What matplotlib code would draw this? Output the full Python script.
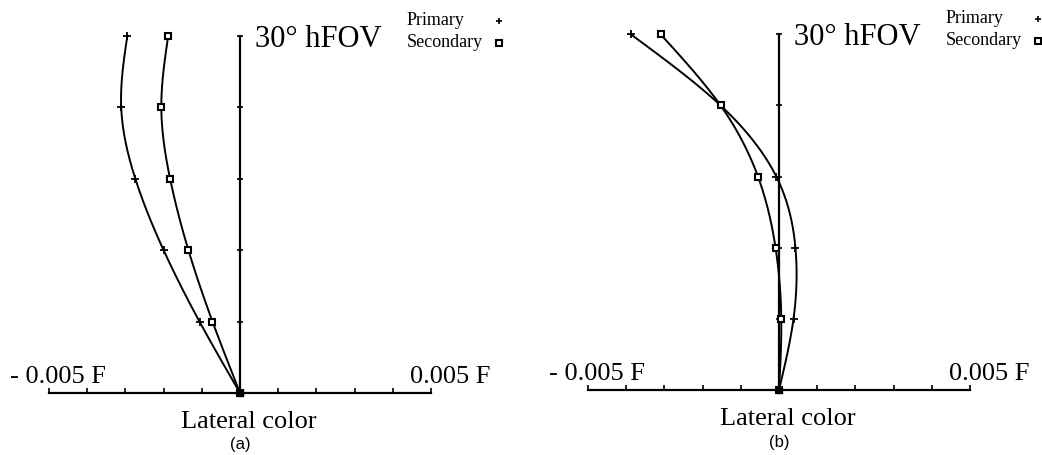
import numpy as np
from matplotlib import pyplot as plt

# Campo relativo (fraccion del hFOV) y color lateral en unidades de F
campo = [0.0, 0.2, 0.4, 0.6, 0.8, 1.0]

prim_a = [0.0, -0.00106, -0.00200, -0.00274, -0.00311, -0.00295]
sec_a = [0.0, -0.00072, -0.00135, -0.00183, -0.00206, -0.00188]

prim_b = [0.0, 0.00038, 0.00043, -0.00007, -0.00153, -0.00388]
sec_b = [0.0, 0.00006, -0.00009, -0.00055, -0.00153, -0.00310]

ticks_x = np.arange(-0.005, 0.0051, 0.001)
ticks_y = [0.2, 0.4, 0.6, 0.8, 1.0]

SERIF = 'Liberation Serif'


def spline(t, v, n=200):
    # spline cubica natural, solo para trazar la curva suave entre los puntos
    t = np.asarray(t, float)
    v = np.asarray(v, float)
    k = len(t)
    h = np.diff(t)
    A = np.zeros((k, k))
    b = np.zeros(k)
    A[0, 0] = 1
    A[-1, -1] = 1
    for i in range(1, k - 1):
        A[i, i - 1] = h[i - 1]
        A[i, i] = 2 * (h[i - 1] + h[i])
        A[i, i + 1] = h[i]
        b[i] = 6 * ((v[i + 1] - v[i]) / h[i] - (v[i] - v[i - 1]) / h[i - 1])
    M = np.linalg.solve(A, b)
    tt = np.linspace(t[0], t[-1], n)
    out = np.zeros(n)
    for j, x in enumerate(tt):
        i = min(np.searchsorted(t, x, side='right') - 1, k - 2)
        a = t[i + 1] - x
        c = x - t[i]
        out[j] = (M[i] * a ** 3 + M[i + 1] * c ** 3) / (6 * h[i]) \
            + (v[i] / h[i] - M[i] * h[i] / 6) * a \
            + (v[i + 1] / h[i] - M[i + 1] * h[i] / 6) * c
    return tt, out


def panel(ax, prim, sec, x0, y0, y1, letra):
    # x0: pixel (dentro del panel) de -0.005 ; y0, y1: pixel de campo 0 y 1
    ppx = 382 / 0.01
    ppy = (y0 - y1)
    ax.set_xlim(-0.005 - x0 / ppx, -0.005 + (521 - x0) / ppx)
    ax.set_ylim(-(455 - y0) / ppy, 1 + y1 / ppy)
    ax.axis('off')

    # ejes
    ax.plot([-0.005, 0.005], [0, 0], 'k-', lw=1.6)
    ax.vlines(ticks_x, 0, 5 / ppy, colors='k', lw=1.2)
    ax.plot([0, 0], [0, 1], 'k-', lw=1.6)
    ax.plot([0] * len(ticks_y), ticks_y, 'k_', ms=5, mew=1.2)

    tt, xp = spline(campo, prim)
    ax.plot(xp, tt, 'k-', lw=1.4)
    ax.plot(prim, campo, 'k+', ms=6, mew=1.3)
    tt, xs = spline(campo, sec)
    ax.plot(xs, tt, 'k-', lw=1.4)
    ax.plot(sec, campo, 's', ms=5, mfc='white', mec='k', mew=1.5)
    ax.plot(0, 0, 'ks', ms=5)

    ax.text(15 / ppx, 1 - 11 / ppy, u'30\u00b0 hFOV', family=SERIF, fontsize=22,
            ha='left', va='baseline')
    ax.text(167 / ppx, 1 + 11 / ppy, 'Primary', family=SERIF, fontsize=13,
            ha='left', va='baseline')
    ax.text(167 / ppx, 1 - 11 / ppy, 'Secondary', family=SERIF, fontsize=13,
            ha='left', va='baseline')
    ax.plot(259 / ppx, 1 + 15 / ppy, 'k+', ms=5, mew=1.2, clip_on=False)
    ax.plot(259 / ppx, 1 - 7 / ppy, 's', ms=4.5, mfc='white', mec='k', mew=1.5,
            clip_on=False)

    ax.text(-0.005 - 39 / ppx, 10 / ppy, '- 0.005 F', family=SERIF, fontsize=19,
            ha='left', va='baseline')
    ax.text(0.005 - 21 / ppx, 10 / ppy, '0.005 F', family=SERIF, fontsize=19,
            ha='left', va='baseline')
    ax.text(9 / ppx, -35 / ppy, 'Lateral color', family=SERIF, fontsize=19,
            ha='center', va='baseline')
    ax.text(0, -52 / ppy, letra, family='Liberation Sans', fontsize=12,
            ha='center', va='center')


fig = plt.figure(figsize=(10.42, 4.55), dpi=100)
ax1 = fig.add_axes([0, 0, 521 / 1042, 1])
ax2 = fig.add_axes([521 / 1042, 0, 521 / 1042, 1])

panel(ax1, prim_a, sec_a, 49, 393, 36, '(a)')
panel(ax2, prim_b, sec_b, 588 - 521, 390, 34.3, '(b)')

fig.savefig('out.png', dpi=100)
